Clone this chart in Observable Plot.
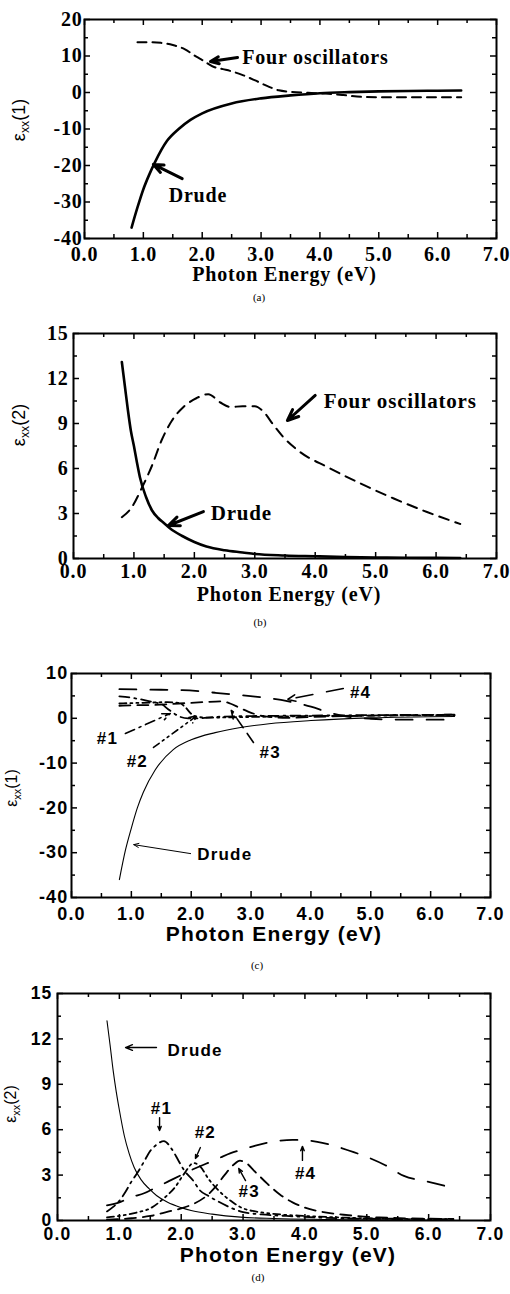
<!DOCTYPE html>
<html><head><meta charset="utf-8">
<script src="https://cdn.jsdelivr.net/npm/d3@7"></script>
<script src="https://cdn.jsdelivr.net/npm/@observablehq/plot@0.6"></script>
<style>
html,body{margin:0;padding:0;background:#fff}
body{position:relative;width:510px;height:1294px;overflow:hidden}
.panel{position:absolute;left:0;width:510px}
.cap{position:absolute;width:40px;text-align:center;font-family:'Liberation Serif','Times New Roman',serif;font-size:11px;line-height:14px;color:#000}
</style></head>
<body>
<div id="pa" class="panel" style="top:0px"></div>
<div id="pb" class="panel" style="top:320px"></div>
<div id="pc" class="panel" style="top:650px"></div>
<div id="pd" class="panel" style="top:975px"></div>
<div class="cap" style="left:239px;top:290px">(a)</div>
<div class="cap" style="left:240px;top:615px">(b)</div>
<div class="cap" style="left:237px;top:958px">(c)</div>
<div class="cap" style="left:238px;top:1270px">(d)</div>
<script>
// ---------- data (photon energy in eV, dielectric function values) ----------
// Panel (a): eps_xx(1)
const aDrudeE = [0.8,0.9,1.0,1.1,1.2,1.4,1.6,1.8,2.0,2.5,3.0,3.5,4.0,4.5,5.0,5.5,6.0,6.4];
const aDrudeV = [-37,-31.5,-26.5,-22.5,-19,-13.3,-10,-7.5,-5.7,-3,-1.6,-0.8,-0.2,0.1,0.3,0.4,0.5,0.55];
const aOscE = [0.9,1.1,1.3,1.5,1.7,1.9,2.0,2.2,2.35,2.5,2.7,2.9,3.1,3.3,3.5,3.8,4.1,4.4,4.7,5.0,5.5,6.0,6.4];
const aOscV = [13.8,13.8,13.6,13.0,11.9,9.8,8.9,7.0,6.4,5.8,4.7,3.3,1.8,0.6,0.2,-0.1,-0.3,-0.7,-1.2,-1.3,-1.3,-1.3,-1.3];
// Panel (b): eps_xx(2)
const bDrudeE = [0.8,0.85,0.9,0.95,1.0,1.05,1.1,1.2,1.3,1.4,1.5,1.6,1.8,2.0,2.2,2.5,2.8,3.0,3.5,4.0,4.5,5.0,5.5,6.0,6.4];
const bDrudeV = [13.1,11.5,9.9,8.5,7.5,6.4,5.4,4.1,3.2,2.7,2.35,2.0,1.5,1.1,0.8,0.55,0.4,0.3,0.2,0.15,0.1,0.07,0.05,0.04,0.03];
const bOscE = [0.8,0.97,1.13,1.3,1.46,1.63,1.82,2.04,2.23,2.43,2.6,2.8,3.0,3.14,3.31,3.47,3.75,4.2,4.75,5.3,5.85,6.4];
const bOscV = [2.75,3.45,4.7,6.2,7.9,9.2,10.1,10.7,10.95,10.4,10.1,10.15,10.15,9.8,8.9,8.1,7.1,6.1,5.0,4.0,3.1,2.3];
// Panel (c): eps_xx(1), Drude and oscillators #1..#4
const cDrudeE = [0.8,0.9,1.0,1.1,1.2,1.4,1.7,2.0,2.4,2.8,3.3,4.0,5.0,6.4];
const cDrudeV = [-36,-29.5,-24.5,-20,-16.5,-11.5,-7,-4.8,-3.2,-2.1,-1.2,-0.5,0.1,0.4];
const cOsc1E = [0.8,1.0,1.2,1.4,1.5,1.6,1.7,1.8,1.95,2.1,2.4,3.0,4.0,5.0,6.4];
const cOsc1V = [4.9,4.6,4.1,3.5,3.2,2.2,1.2,0.4,0.0,0.0,0.3,0.5,0.6,0.7,0.8];
const cOsc2E = [0.8,1.0,1.3,1.6,1.8,1.9,2.0,2.1,2.3,2.6,3.0,4.0,5.0,6.4];
const cOsc2V = [3.3,3.4,3.5,3.6,3.4,2.5,1.0,0.3,0.15,0.2,0.3,0.5,0.6,0.7];
const cOsc3E = [0.8,1.0,1.4,1.8,2.2,2.5,2.65,2.8,2.95,3.1,3.3,3.6,4.0,5.0,6.4];
const cOsc3V = [2.8,2.9,3.0,3.3,3.6,3.8,3.3,2.4,1.5,0.8,0.3,0.1,0.3,0.6,0.8];
const cOsc4E = [0.8,1.3,1.85,2.4,2.95,3.5,4.0,4.3,4.6,5.0,5.5,6.0,6.4];
const cOsc4V = [6.5,6.4,6.3,5.7,5.0,4.1,2.6,1.3,0.4,-0.1,-0.3,-0.3,-0.3];
// Panel (d): eps_xx(2), Drude and oscillators #1..#4
const dDrudeE = [0.8,0.85,0.9,0.95,1.0,1.08,1.16,1.24,1.35,1.48,1.6,1.78,2.0,2.16,2.5,2.96,3.5,4.3,5.0,6.4];
const dDrudeV = [13.2,11.6,9.9,8.5,7.3,5.6,4.4,3.5,2.7,2.1,1.65,1.2,0.85,0.66,0.42,0.22,0.13,0.07,0.04,0.02];
const dOsc1E = [0.8,0.9,1.0,1.1,1.2,1.3,1.4,1.5,1.6,1.72,1.85,1.95,2.05,2.2,2.3,2.45,2.6,2.8,3.0,3.3,3.7,4.2,5.0,6.4];
const dOsc1V = [0.6,0.9,1.3,1.9,2.6,3.2,3.9,4.6,5.0,5.25,4.7,4.0,3.3,2.6,2.0,1.6,1.25,0.85,0.55,0.4,0.3,0.2,0.12,0.08];
const dOsc2E = [0.8,1.0,1.3,1.5,1.7,1.9,2.05,2.2,2.3,2.45,2.6,2.8,3.0,3.2,3.6,4.0,5.0,6.4];
const dOsc2V = [0.2,0.3,0.55,0.8,1.4,2.2,3.1,3.8,3.6,2.7,2.0,1.3,0.8,0.6,0.4,0.3,0.15,0.08];
const dOsc3E = [0.8,1.2,1.5,1.8,2.0,2.2,2.4,2.55,2.7,2.85,2.95,3.05,3.2,3.4,3.6,3.8,4.0,4.3,4.7,5.2,6.4];
const dOsc3V = [0.05,0.15,0.3,0.6,0.8,1.1,1.6,2.2,3.0,3.7,3.95,3.8,3.2,2.4,1.7,1.2,0.85,0.55,0.35,0.2,0.1];
const dOsc4E = [0.8,1.0,1.2,1.4,1.6,1.8,2.0,2.2,2.4,2.6,2.8,3.0,3.2,3.4,3.6,3.8,4.0,4.2,4.5,4.8,5.0,5.3,5.6,6.0,6.4];
const dOsc4V = [1.0,1.2,1.55,1.8,2.2,2.6,3.0,3.4,3.75,4.1,4.45,4.7,4.95,5.15,5.28,5.33,5.3,5.2,4.9,4.5,4.2,3.65,2.95,2.55,2.15];

// tick values
const xMajor = [0,1,2,3,4,5,6,7];
const xMinor = [0.5,1.5,2.5,3.5,4.5,5.5,6.5];
const yMajorA = [-40,-30,-20,-10,0,10,20];
const yMinorA = [-35,-25,-15,-5,5,15];
const yMajorB = [0,3,6,9,12,15];
const yMinorB = [1.5,4.5,7.5,10.5,13.5];
const yMajorC = [-40,-30,-20,-10,0,10];
const yMinorC = [-35,-25,-15,-5,5];
const xTitle = "Photon Energy (eV)";

// annotations (data coordinates)
const aLabels = [{t:"Four oscillators", x:2.68, y:9.6}, {t:"Drude", x:1.43, y:-28.2}];
const aArrows = [{x1:2.6,y1:9.6,x2:2.14,y2:8.5},{x1:1.66,y1:-23.6,x2:1.17,y2:-19.7}];
const bLabels = [{t:"Four oscillators", x:4.14, y:10.47}, {t:"Drude", x:2.27, y:3.0}];
const bArrows = [{x1:4.0,y1:10.87,x2:3.54,y2:9.2},{x1:2.15,y1:3.13,x2:1.57,y2:2.2}];
const cLabels = [{t:"#1",x:0.6,y:-4.5,a:"middle"},{t:"#2",x:1.1,y:-9.6,a:"middle"},{t:"#3",x:3.32,y:-7.6,a:"middle"},{t:"#4",x:4.83,y:5.76,a:"middle"},{t:"Drude",x:2.1,y:-30.4}];
const cArrows = [{x1:0.9,y1:-3.4,x2:1.65,y2:1.07,k:1},{x1:1.37,y1:-6.5,x2:2.1,y2:0.6,k:2},{x1:3.04,y1:-5.4,x2:2.67,y2:1.74,k:3},{x1:4.54,y1:6.65,x2:3.61,y2:4.2,k:4},{x1:1.99,y1:-30.2,x2:1.04,y2:-28.2,k:0}];
const dLabels = [{t:"Drude",x:1.78,y:11.2},{t:"#1",x:1.68,y:7.4,a:"middle"},{t:"#2",x:2.39,y:5.8,a:"middle"},{t:"#3",x:3.1,y:1.9,a:"middle"},{t:"#4",x:4.01,y:3.1,a:"middle"}];
const dArrows = [{x1:1.6,y1:11.43,x2:1.1,y2:11.43},{x1:1.65,y1:6.8,x2:1.65,y2:5.95},{x1:2.31,y1:4.82,x2:2.23,y2:4.1},{x1:3.04,y1:2.64,x2:2.93,y2:3.44},{x1:3.96,y1:3.97,x2:3.96,y2:4.9}];

// ---------- rendering ----------
const serif = "Liberation Serif";
const sans = "Liberation Sans";
const pts = (E, V) => E.map((x, i) => ({x, y: V[i]}));
const dashes = {0: null, 1: "10,5,2,5", 2: "7,4,2,4,2,4", 3: "11,7", 4: "17,14"};

function build(c) {
  const W = 510 - c.ml - c.mr, H = c.h - c.mt - c.mb;
  const sw = 1.5;
  const txt = {fontFamily: c.font, fontWeight: "bold"};
  const marks = [
    Plot.tickX(xMajor, {x: d => d, insetTop: H - 6, strokeWidth: sw}),
    Plot.tickX(xMajor, {x: d => d, insetBottom: H - 6, strokeWidth: sw}),
    Plot.tickX(xMinor, {x: d => d, insetTop: H - 4, strokeWidth: sw}),
    Plot.tickX(xMinor, {x: d => d, insetBottom: H - 4, strokeWidth: sw}),
    Plot.tickY(c.yMaj, {y: d => d, insetRight: W - 6, strokeWidth: sw}),
    Plot.tickY(c.yMaj, {y: d => d, insetLeft: W - 6, strokeWidth: sw}),
    Plot.tickY(c.yMin, {y: d => d, insetRight: W - 4, strokeWidth: sw}),
    Plot.tickY(c.yMin, {y: d => d, insetLeft: W - 4, strokeWidth: sw}),
    Plot.frame({strokeWidth: 2}),
    // tick labels
    Plot.text(xMajor, {x: d => d, frameAnchor: "bottom", lineAnchor: "middle", textAnchor: "middle",
      dy: c.xlDy, text: d => d.toFixed(1), fontSize: c.tickFs, ...txt}),
    Plot.text(c.yMaj, {y: d => d, frameAnchor: "left", lineAnchor: "middle", textAnchor: "end",
      dx: -c.padY, text: d => String(d), fontSize: c.tickFs, ...txt}),
    // x title
    Plot.text([xTitle], {frameAnchor: "bottom", lineAnchor: "middle", textAnchor: "middle",
      dy: c.titleDy, dx: c.titleDx, text: d => d, fontSize: c.titleFs, ...txt}),
    ...c.series.map(s => Plot.line(s.data, {x: "x", y: "y", curve: "monotone-x", stroke: "black",
      strokeWidth: s.sw, strokeDasharray: s.dash})),
    ...c.arrows.map(a => Plot.arrow([a], {x1: "x1", y1: "y1", x2: "x2", y2: "y2", stroke: "black",
      strokeWidth: c.arrowSw(a), headLength: c.headLength, headAngle: c.headAngle,
      strokeDasharray: a.k ? dashes[a.k] : null})),
    Plot.text(c.labels.filter(d => !d.a), {x: "x", y: "y", text: "t", textAnchor: "start",
      lineAnchor: "middle", fontSize: c.labelFs, ...txt}),
    Plot.text(c.labels.filter(d => d.a), {x: "x", y: "y", text: "t", textAnchor: "middle",
      lineAnchor: "middle", fontSize: c.labelFs, ...txt})
  ];
  const svg = Plot.plot({
    width: 510, height: c.h,
    marginLeft: c.ml, marginRight: c.mr, marginTop: c.mt, marginBottom: c.mb,
    x: {domain: [0, 7], axis: null}, y: {domain: c.ydom, axis: null},
    style: `background:white;color:black;overflow:visible;letter-spacing:${c.ls}px`,
    marks
  });
  const s = d3.select(svg);
  // y-axis title with subscript
  const t = s.append("text")
    .attr("transform", `translate(${c.yt[0]},${c.yt[1]}) rotate(-90)`)
    .attr("text-anchor", "middle")
    .attr("font-family", sans).attr("font-size", c.ytFs)
    .attr("font-weight", "normal").style("letter-spacing", "0px");
  t.append("tspan").text("ε");
  t.append("tspan").attr("dy", c.ytFs * 0.22).attr("font-size", c.ytFs * 0.68).text("xx");
  t.append("tspan").attr("dy", -c.ytFs * 0.22).text(`(${c.yn})`);
  document.getElementById(c.id).appendChild(svg);
}

build({
  id: "pa", h: 290, ml: 84, mr: 14, mt: 19, mb: 52, ydom: [-40, 20],
  yMaj: yMajorA, yMin: yMinorA, font: serif, tickFs: 20, ls: 0.8, xlDy: 16.5, padY: 2,
  titleFs: 20, titleDy: 36, titleDx: -6, labelFs: 20, yt: [25, 120], ytFs: 18, yn: 1,
  headLength: 6, headAngle: 45, arrowSw: () => 3,
  series: [
    {data: pts(aDrudeE, aDrudeV), sw: 2.6, dash: null},
    {data: pts(aOscE, aOscV), sw: 2, dash: "9,6"}
  ],
  arrows: aArrows, labels: aLabels
});
build({
  id: "pb", h: 290, ml: 73, mr: 14, mt: 13, mb: 52, ydom: [0, 15],
  yMaj: yMajorB, yMin: yMinorB, font: serif, tickFs: 20, ls: 0.8, xlDy: 13, padY: 5,
  titleFs: 20, titleDy: 36, titleDx: 4, labelFs: 21, yt: [25, 105], ytFs: 18, yn: 2,
  headLength: 6, headAngle: 45, arrowSw: () => 3,
  series: [
    {data: pts(bDrudeE, bDrudeV), sw: 2.6, dash: null},
    {data: pts(bOscE, bOscV), sw: 2, dash: "10,7"}
  ],
  arrows: bArrows, labels: bLabels
});
build({
  id: "pc", h: 300, ml: 71, mr: 20, mt: 23, mb: 53, ydom: [-40, 10],
  yMaj: yMajorC, yMin: yMinorC, font: sans, tickFs: 18, ls: 1.2, xlDy: 17, padY: 3,
  titleFs: 21, titleDy: 37, titleDx: -7, labelFs: 17, yt: [17, 138], ytFs: 16, yn: 1,
  headLength: 8, headAngle: 45, arrowSw: a => a.k ? 1.6 : 1,
  series: [
    {data: pts(cDrudeE, cDrudeV), sw: 1.1, dash: null},
    {data: pts(cOsc1E, cOsc1V), sw: 1.8, dash: dashes[1]},
    {data: pts(cOsc2E, cOsc2V), sw: 1.8, dash: dashes[2]},
    {data: pts(cOsc3E, cOsc3V), sw: 1.8, dash: dashes[3]},
    {data: pts(cOsc4E, cOsc4V), sw: 1.8, dash: dashes[4]}
  ],
  arrows: cArrows, labels: cLabels
});
build({
  id: "pd", h: 290, ml: 57, mr: 20, mt: 18, mb: 45, ydom: [0, 15],
  yMaj: yMajorB, yMin: yMinorB, font: sans, tickFs: 17.5, ls: 1.2, xlDy: 14, padY: 5,
  titleFs: 21, titleDy: 35, titleDx: 14, labelFs: 17, yt: [16, 129], ytFs: 16, yn: 2,
  headLength: 8, headAngle: 45, arrowSw: () => 1.4,
  series: [
    {data: pts(dDrudeE, dDrudeV), sw: 1.1, dash: null},
    {data: pts(dOsc1E, dOsc1V), sw: 1.8, dash: dashes[1]},
    {data: pts(dOsc2E, dOsc2V), sw: 1.8, dash: dashes[2]},
    {data: pts(dOsc3E, dOsc3V), sw: 1.8, dash: dashes[3]},
    {data: pts(dOsc4E, dOsc4V), sw: 1.8, dash: dashes[4]}
  ],
  arrows: dArrows, labels: dLabels
});
</script>
</body></html>
